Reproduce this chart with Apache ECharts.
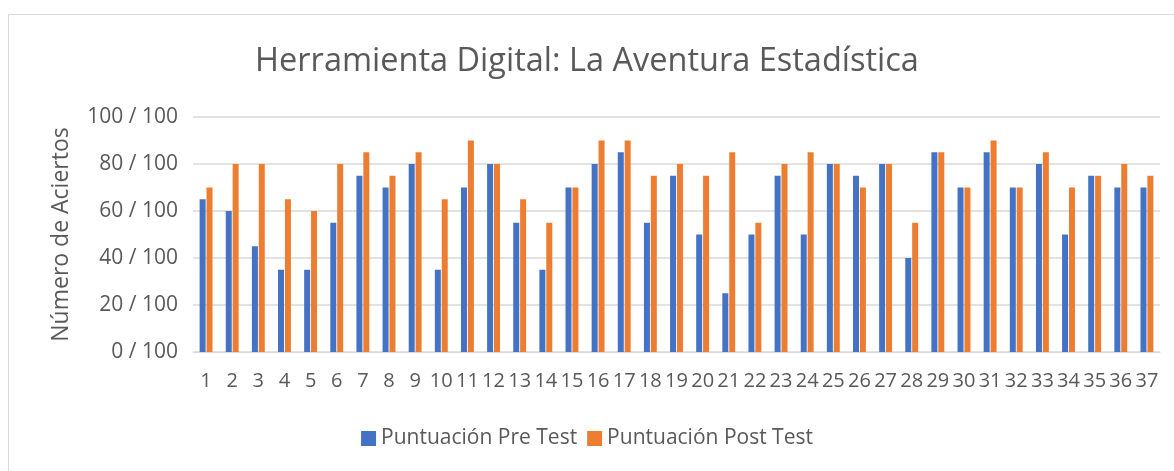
<!DOCTYPE html>
<html>
<head>
<meta charset="utf-8">
<script src="https://cdn.jsdelivr.net/npm/echarts@6/dist/echarts.min.js"></script>
<style>
  html, body { margin: 0; padding: 0; background: #fff; }
  #chart { width: 1174px; height: 471px; }
</style>
</head>
<body>
<div id="chart"></div>
<script>
// alumnos 1..37
const alumnos = [];
for (let i = 1; i <= 37; i++) alumnos.push(String(i));

const preTest = [65, 60, 45, 35, 35, 55, 75, 70, 80, 35, 70, 80, 55, 35, 70, 80, 85, 55, 75, 50,
  25, 50, 75, 50, 80, 75, 80, 40, 85, 70, 85, 70, 80, 50, 75, 70, 70];
const postTest = [70, 80, 80, 65, 60, 80, 85, 75, 85, 65, 90, 80, 65, 55, 70, 90, 90, 75, 80, 75,
  85, 55, 80, 85, 80, 70, 80, 55, 85, 70, 90, 70, 85, 70, 75, 80, 75];

const font = "'Open Sans', 'Noto Sans', sans-serif";
const textColor = '#595959';

const chart = echarts.init(document.getElementById('chart'));
chart.setOption({
  animation: false,
  textStyle: { fontFamily: font },
  graphic: [{
    type: 'rect',
    shape: { x: 8.5, y: 14.5, width: 1200, height: 500 },
    style: { fill: 'none', stroke: '#d9d9d9', lineWidth: 1 }
  }],
  title: {
    text: 'Herramienta Digital: La Aventura Estadística',
    left: 'center',
    top: 40,
    textStyle: { fontFamily: font, fontSize: 32.5, fontWeight: 'normal', color: textColor }
  },
  legend: {
    bottom: 17,
    left: 'center',
    itemWidth: 15,
    itemHeight: 15,
    itemGap: 10,
    icon: 'rect',
    textStyle: { fontFamily: font, fontSize: 21, color: textColor }
  },
  grid: { left: 193, right: 14, top: 117, bottom: 119 },
  xAxis: {
    type: 'category',
    data: alumnos,
    axisLine: { lineStyle: { color: '#d9d9d9' } },
    axisTick: { show: false },
    axisLabel: { interval: 0, fontSize: 20, color: textColor, margin: 19, fontFamily: font }
  },
  yAxis: {
    type: 'value',
    min: 0,
    max: 100,
    interval: 20,
    name: 'Número de Aciertos',
    nameLocation: 'middle',
    nameGap: 120,
    nameRotate: 90,
    nameTextStyle: { fontSize: 23, color: textColor, fontFamily: font },
    axisLabel: { formatter: '{value} / 100', fontSize: 21, color: textColor, margin: 15, fontFamily: font },
    splitLine: { lineStyle: { color: '#d9d9d9', width: 1.5 } }
  },
  series: [
    {
      name: 'Puntuación Pre Test',
      type: 'bar',
      data: preTest,
      barWidth: 6,
      barGap: '15%',
      itemStyle: { color: '#4472c4' }
    },
    {
      name: 'Puntuación Post Test',
      type: 'bar',
      data: postTest,
      barWidth: 6,
      itemStyle: { color: '#ed7d31' }
    }
  ]
});
</script>
</body>
</html>
